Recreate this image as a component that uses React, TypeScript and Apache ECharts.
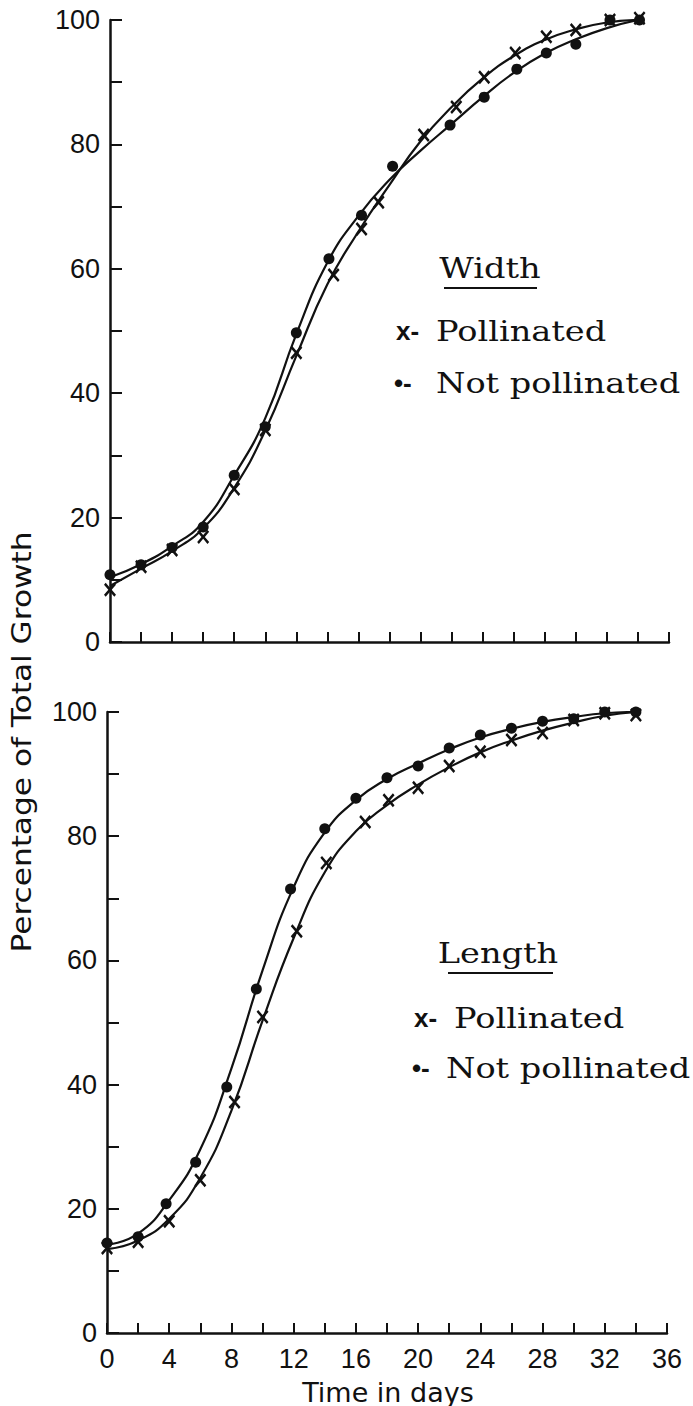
import React, { useEffect, useRef } from "react";
import * as echarts from "echarts";

// ---- Width panel ----
const widthDaysP = [0, 2, 4, 6, 8, 10, 12, 14.4, 16.2, 17.3, 20.2, 22.3, 24.1, 26.1, 28.1, 30, 32.2, 34.1];
const widthValsP = [8.4, 12.1, 14.8, 16.9, 24.6, 34.1, 46.5, 59, 66.4, 70.7, 81.5, 86, 90.8, 94.7, 97.3, 98.4, 100, 100.3];
const widthDaysNP = [0, 2, 4, 6, 8, 10, 12, 14.1, 16.2, 18.2, 21.9, 24.1, 26.2, 28.1, 30, 32.2, 34.1];
const widthValsNP = [10.8, 12.4, 15.2, 18.5, 26.8, 34.6, 49.7, 61.6, 68.6, 76.5, 83.1, 87.6, 92.1, 94.7, 96.1, 100, 100];

// fitted growth curves, every 2 days
const curveDays = [0, 2, 4, 6, 8, 10, 12, 14, 16, 18, 20, 22, 24, 26, 28, 30, 32, 34];
const widthCurveP = [9.0, 11.8, 14.6, 18.3, 24.8, 34.0, 46.0, 57.5, 66.0, 73.5, 80.5, 86.0, 90.6, 94.2, 96.8, 98.5, 99.6, 100];
const widthCurveNP = [10.4, 12.5, 15.4, 19.3, 26.8, 36.0, 49.5, 61.0, 68.5, 74.3, 79.0, 83.3, 87.6, 91.5, 94.6, 96.9, 98.7, 100];

// ---- Length panel ----
const lengthDaysP = [0, 2, 4, 6, 8.2, 10, 12.2, 14.1, 16.6, 18.1, 20, 22, 24, 26, 28, 30, 32, 34];
const lengthValsP = [13.7, 14.7, 18.0, 24.6, 37.2, 50.9, 64.7, 75.7, 82.3, 85.8, 87.8, 91.3, 93.6, 95.5, 96.6, 98.7, 99.8, 99.5];
const lengthDaysNP = [0, 2, 3.8, 5.7, 7.7, 9.6, 11.8, 14, 16, 18, 20, 22, 24, 26, 28, 30, 32, 34];
const lengthValsNP = [14.5, 15.5, 20.8, 27.5, 39.6, 55.4, 71.5, 81.2, 86.1, 89.4, 91.3, 94.2, 96.3, 97.4, 98.5, 98.9, 100, 100];
const lengthCurveP = [13.5, 14.9, 18.4, 25.0, 35.8, 50.3, 63.6, 74.2, 80.8, 85.0, 88.3, 91.1, 93.5, 95.4, 97.0, 98.3, 99.4, 100];
const lengthCurveNP = [14.2, 16.0, 21.4, 29.6, 42.6, 58.4, 71.8, 80.6, 85.8, 89.2, 91.7, 94.0, 95.9, 97.3, 98.4, 99.2, 99.8, 100];

const yTicks = [0, 20, 40, 60, 80, 100];
const xTicks = [0, 4, 8, 12, 16, 20, 24, 28, 32, 36];

const INK = "#111";
const SANS = "'Liberation Sans', Arial, sans-serif";
const SANS_WIDE = "'DejaVu Sans', sans-serif";
const SERIF = "'DejaVu Serif', serif";
const CROSS = "path://M0,1.4L1.4,0L5,3.6L8.6,0L10,1.4L6.4,5L10,8.6L8.6,10L5,6.4L1.4,10L0,8.6L3.6,5Z";

const zip = (xs: number[], ys: number[]) => xs.map((x, i) => [x, ys[i]]);

function xAxisFor(gridIndex: number, showLabels: boolean) {
  return {
    type: "value",
    gridIndex,
    min: 0,
    max: 36,
    interval: 2,
    axisLine: { show: true, onZero: false, lineStyle: { color: INK, width: 2.5 } },
    axisTick: { show: true, inside: true, length: 10, lineStyle: { color: INK, width: 2 } },
    splitLine: { show: false },
    axisLabel: {
      show: showLabels,
      margin: 12,
      color: INK,
      fontFamily: SANS,
      fontSize: 27,
      formatter: (v: number) => (xTicks.includes(v) ? String(v) : ""),
    },
  };
}

function yAxisFor(gridIndex: number) {
  return {
    type: "value",
    gridIndex,
    min: 0,
    max: 100,
    interval: 10,
    axisLine: { show: true, onZero: false, lineStyle: { color: INK, width: 2.5 } },
    axisTick: { show: true, inside: true, length: 12, lineStyle: { color: INK, width: 2 } },
    splitLine: { show: false },
    axisLabel: {
      margin: 10,
      color: INK,
      fontFamily: SANS,
      fontSize: 27,
      formatter: (v: number) => (yTicks.includes(v) ? String(v) : ""),
    },
  };
}

function curve(idx: number, days: number[], vals: number[]) {
  return {
    type: "line",
    xAxisIndex: idx,
    yAxisIndex: idx,
    data: zip(days, vals),
    smooth: 0.5,
    showSymbol: false,
    silent: true,
    lineStyle: { color: INK, width: 2.2 },
  };
}

function marks(idx: number, days: number[], vals: number[], cross: boolean) {
  return {
    type: "scatter",
    xAxisIndex: idx,
    yAxisIndex: idx,
    data: zip(days, vals),
    clip: false,
    symbol: cross ? CROSS : "circle",
    symbolSize: cross ? [12, 14] : 11,
    itemStyle: { color: INK, opacity: 1 },
    z: 3,
  };
}

function serifText(x: number, y: number, text: string, align = "left") {
  return {
    type: "text",
    x,
    y,
    scaleX: 1.2,
    style: { text, fill: INK, font: `28px ${SERIF}`, textAlign: align, textVerticalAlign: "middle" },
  };
}

function keyText(x: number, y: number, text: string) {
  return {
    type: "text",
    x,
    y,
    style: { text, fill: INK, font: `bold 26px ${SANS}`, textAlign: "left", textVerticalAlign: "middle" },
  };
}

export default function App() {
  const ref = useRef<HTMLDivElement>(null);

  useEffect(() => {
    if (!ref.current) return;
    const chart = echarts.init(ref.current, undefined, { renderer: "svg" });
    chart.setOption({
      animation: false,
      backgroundColor: "#fff",
      grid: [
        { left: 110, top: 20, width: 559, height: 622 },
        { left: 107, top: 712, width: 560, height: 621 },
      ],
      xAxis: [xAxisFor(0, false), xAxisFor(1, true)],
      yAxis: [yAxisFor(0), yAxisFor(1)],
      series: [
        curve(0, curveDays, widthCurveP),
        curve(0, curveDays, widthCurveNP),
        marks(0, widthDaysP, widthValsP, true),
        marks(0, widthDaysNP, widthValsNP, false),
        curve(1, curveDays, lengthCurveP),
        curve(1, curveDays, lengthCurveNP),
        marks(1, lengthDaysP, lengthValsP, true),
        marks(1, lengthDaysNP, lengthValsNP, false),
      ],
      graphic: [
        {
          type: "text",
          x: 22,
          y: 742,
          rotation: Math.PI / 2,
          scaleX: 1.2,
          style: {
            text: "Percentage of Total Growth",
            fill: INK,
            font: `26px ${SANS_WIDE}`,
            textAlign: "center",
            textVerticalAlign: "middle",
          },
        },
        {
          type: "text",
          x: 388,
          y: 1392,
          style: {
            text: "Time in days",
            fill: INK,
            font: `27px ${SANS_WIDE}`,
            textAlign: "center",
            textVerticalAlign: "middle",
          },
        },
        // Width key
        serifText(490, 268, "Width", "center"),
        { type: "line", shape: { x1: 444, y1: 288, x2: 537, y2: 288 }, style: { stroke: INK, lineWidth: 2 } },
        keyText(396, 331, "x-"),
        serifText(436, 331, "Pollinated"),
        keyText(394, 383, "\u2022-"),
        serifText(436, 383, "Not pollinated"),
        // Length key
        serifText(498, 953, "Length", "center"),
        { type: "line", shape: { x1: 448, y1: 973, x2: 553, y2: 973 }, style: { stroke: INK, lineWidth: 2 } },
        keyText(414, 1018, "x-"),
        serifText(454, 1018, "Pollinated"),
        keyText(412, 1068, "\u2022-"),
        serifText(446, 1068, "Not pollinated"),
      ],
    });
    return () => chart.dispose();
  }, []);

  return (
    <div
      ref={ref}
      style={{ position: "fixed", left: 0, top: 0, width: 693, height: 1406, background: "#fff" }}
    />
  );
}
